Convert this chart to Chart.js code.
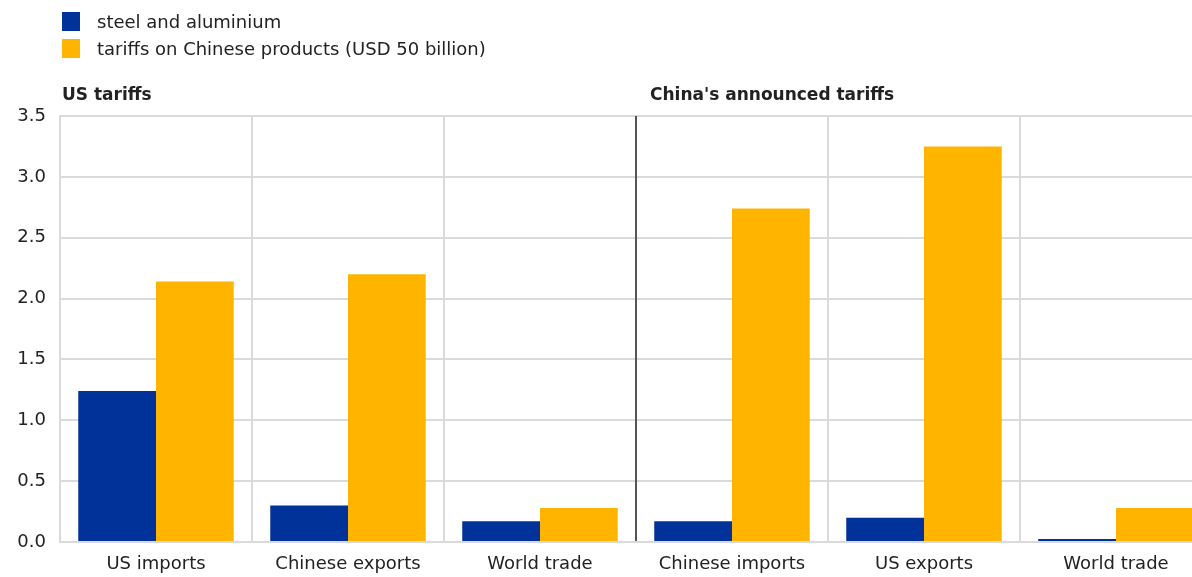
<!DOCTYPE html>
<html>
<head>
<meta charset="utf-8">
<script src="https://cdn.jsdelivr.net/npm/chart.js@4"></script>
<style>
  html, body { margin: 0; padding: 0; background: #fff; overflow: hidden; }
  #wrap { position: absolute; left: 0; top: 0; width: 1212px; height: 577px; }
  #legend { position: absolute; left: 62px; top: 8px; font: 18px "DejaVu Sans", sans-serif; color: #222; }
  .item { height: 27px; display: flex; align-items: center; }
  .box { width: 18px; height: 19px; margin-right: 17px; }
</style>
</head>
<body>
<div id="wrap"><canvas id="tariffChart"></canvas></div>
<div id="legend"></div>
<script>
// data
let categories = ['US imports', 'Chinese exports', 'World trade', 'Chinese imports', 'US exports', 'World trade'];
let steelAluminium = [1.24, 0.30, 0.17, 0.17, 0.20, 0.025];
let chineseProducts = [2.14, 2.20, 0.28, 2.74, 3.25, 0.28];
let seriesNames = ['steel and aluminium', 'tariffs on Chinese products (USD 50 billion)'];
let seriesColors = ['#003299', '#FFB400'];
let sections = [{ label: 'US tariffs', start: 0 }, { label: "China's announced tariffs", start: 3 }];
let yTicks = [0, 0.5, 1, 1.5, 2, 2.5, 3, 3.5];

let font = '"DejaVu Sans", sans-serif';

// html legend, one row per series
let legend = document.getElementById('legend');
seriesNames.forEach(function (name, i) {
  legend.innerHTML += '<div class="item"><span class="box" style="background:' + seriesColors[i] + '"></span>' + name + '</div>';
});

// section headings above the plot
let sectionTitles = {
  id: 'sectionTitles',
  afterDraw(chart) {
    let c = chart.ctx, x = chart.scales.x, area = chart.chartArea;
    let catW = x.width / categories.length;
    c.save();
    c.font = 'bold 17px ' + font;
    c.fillStyle = '#222';
    c.textBaseline = 'middle';
    sections.forEach(function (s) {
      let left = area.left + s.start * catW;
      c.fillText(s.label, left + (s.start === 0 ? 2 : 14), area.top - 20);
    });
    c.restore();
  }
};

let ctx = document.getElementById('tariffChart');
new Chart(ctx, {
  type: 'bar',
  data: {
    labels: categories,
    datasets: [
      { label: seriesNames[0], data: steelAluminium, backgroundColor: seriesColors[0] },
      { label: seriesNames[1], data: chineseProducts, backgroundColor: seriesColors[1] }
    ]
  },
  options: {
    responsive: true,
    maintainAspectRatio: false,
    animation: false,
    categoryPercentage: 0.81,
    barPercentage: 1.0,
    layout: { padding: { top: 116, left: 0, right: 0, bottom: 0 } },
    plugins: { legend: { display: false }, tooltip: { enabled: false } },
    scales: {
      x: {
        grid: {
          z: 0, // above the y grid so the divider stays unbroken
          offset: true,
          drawTicks: false,
          lineWidth: 2,
          color: function (c) { return c.index === 3 ? '#555555' : '#dadada'; }
        },
        border: { color: '#dadada', width: 2 },
        ticks: { color: '#222', font: { family: font, size: 18 }, padding: 12 },
        afterFit: function (s) { s.height = 35; }
      },
      y: {
        min: 0, max: 3.5,
        afterBuildTicks: function (s) { s.ticks = yTicks.map(function (v) { return { value: v }; }); },
        grid: { drawTicks: false, lineWidth: 2, color: '#dadada' },
        border: { color: '#dadada', width: 2 },
        ticks: {
          color: '#222', font: { family: font, size: 18 }, padding: 14,
          callback: function (v) { return v.toFixed(1); }
        },
        afterFit: function (s) { s.width = 60; }
      }
    }
  },
  plugins: [sectionTitles]
});
</script>
</body>
</html>
